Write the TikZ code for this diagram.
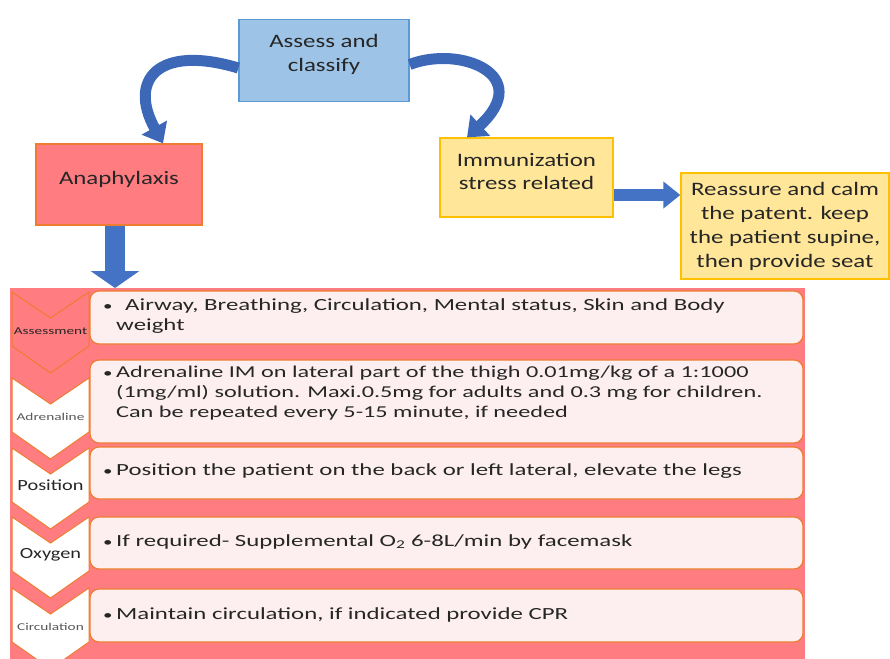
\documentclass[tikz,border=0pt]{standalone}
\usepackage{fontspec}
\setmainfont{Carlito}[FakeStretch=1.31]
\newfontfamily\rowfont{Carlito}[FakeStretch=1.46]
\usetikzlibrary{arrows.meta}
\definecolor{salmon}{HTML}{FF7C80}
\definecolor{orng}{HTML}{ED7D31}
\definecolor{rowfill}{HTML}{FDEFEF}
\definecolor{bluefill}{HTML}{9DC3E6}
\definecolor{blueedge}{HTML}{5B9BD5}
\definecolor{yelfill}{HTML}{FFE699}
\definecolor{yeledge}{HTML}{FFC000}
\definecolor{arrowblue}{HTML}{4472C4}
\definecolor{curveblue}{HTML}{3D68B8}
\definecolor{txtc}{HTML}{262626}
\definecolor{greytxt}{HTML}{595959}
\newcommand{\bul}{\makebox[13pt][l]{\fontsize{13}{13}\selectfont•}}
\begin{document}
\begin{tikzpicture}[x=1pt,y=-1pt,
  topbox/.style={draw, line width=1.3pt, inner sep=0pt},
  toptext/.style={align=center, inner sep=0pt, text=txtc, font=\fontsize{19}{24}\selectfont},
  rowbox/.style={draw=orng, fill=rowfill, line width=1.2pt, rounded corners=9pt, minimum width=713pt, inner sep=0pt},
  rowtext/.style={anchor=base west, align=left, inner sep=0pt, text=txtc, font=\rowfont\fontsize{17}{20}\selectfont},
  chevbig/.style={inner sep=0pt, text=txtc, font=\fontsize{15.5}{18}\selectfont},
  chevsmall/.style={inner sep=0pt, font=\rowfont\fontsize{10.5}{11}\selectfont},
  chevron/.style={draw=orng, line width=1pt},
  blockarrow/.style={draw=arrowblue},
  curvearrow/.style={draw=curveblue, line width=11pt, -{Triangle[length=18pt,width=28pt]}}
]
\useasboundingbox (0,0) rectangle (890,658);
\clip (0,0) rectangle (890,658);

% top boxes
\node[topbox, fill=bluefill, draw=blueedge, minimum width=170pt, minimum height=82pt] (assess) at (324,60.5) {};
\node[toptext] (assesst) at ([yshift=6pt]assess.center) {Assess and\\classify};

\node[topbox, fill=salmon, draw=orng, minimum width=166pt, minimum height=81pt] (ana) at (119,184.5) {};
\node[toptext] (anat) at ([yshift=5pt]ana.center) {Anaphylaxis};

\node[topbox, fill=yelfill, draw=yeledge, minimum width=173pt, minimum height=79pt] (immun) at (526.5,177.5) {};
\node[toptext] (immunt) at ([yshift=6pt]immun.center) {Immunization\\stress related};

\node[topbox, fill=yelfill, draw=yeledge, minimum width=208pt, minimum height=106pt] (reassure) at (785,226) {};
\node[toptext] (reassuret) at (reassure.center) {Reassure and calm\\the patent. keep\\the patient supine,\\then provide seat};

% curved arrows
\draw[curvearrow] ([yshift=-7.5pt]assess.west) .. controls (158,44) and (128,80) .. ([xshift=44pt]ana.north);
\draw[curvearrow] ([yshift=-4pt]assess.east) .. controls (460,45) and (535,75) .. ([xshift=-59.5pt]immun.north);

% right block arrow
\coordinate (ia) at ([yshift=-17.5pt]immun.east);
\draw[blockarrow, line width=12pt, -{Triangle[length=17pt,width=26pt]}] (ia) -- (ia -| reassure.west);

% bottom panel
\node[fill=salmon, minimum width=795pt, minimum height=372pt, inner sep=0pt, anchor=north west] (panel) at (10,288) {};

% down block arrow
\coordinate (anatip) at (115,288);
\draw[blockarrow, line width=20pt, -{Triangle[length=17pt,width=48pt]}] ([xshift=-4pt]ana.south) -- (anatip);

% chevrons
\foreach \t/\f in {292/salmon,378/white,448/white,517/white,588/white}
  \draw[chevron, fill=\f] (12,\t) -- (50.5,\t+26) -- (89,\t) -- (89,\t+54) -- (50.5,\t+81) -- (12,\t+54) -- cycle;

\node[chevsmall, text=txtc] (l1) at (50.5,331) {Assessment};
\node[chevsmall, text=greytxt] (l2) at (50.5,417) {Adrenaline};
\node[chevbig] (l3) at (50.5,485) {Position};
\node[chevbig] (l4) at (50.5,555) {Oxygen};
\node[chevsmall, text=greytxt] (l5) at (50.5,627) {Circulation};

% row boxes
\node[rowbox, minimum height=53pt] (r1) at (446.5,317.5) {};
\node[rowbox, minimum height=83pt] (r2) at (446.5,401.5) {};
\node[rowbox, minimum height=52pt] (r3) at (446.5,473) {};
\node[rowbox, minimum height=52pt] (r4) at (446.5,543) {};
\node[rowbox, minimum height=53pt] (r5) at (446.5,615.5) {};

\node[rowtext] (t1) at (103,330) {\bul\hspace{9pt}Airway, Breathing, Circulation, Mental status, Skin and Body\\\hspace*{13pt}weight};
\node[rowtext, font=\rowfont\fontsize{16.6}{20}\selectfont] (t2) at (103,417) {\bul Adrenaline IM on lateral part of the thigh 0.01mg/kg of a 1:1000\\\hspace*{13pt}(1mg/ml) solution. Maxi.0.5mg for adults and 0.3 mg for children.\\\hspace*{13pt}Can be repeated every 5-15 minute, if needed};
\node[rowtext] (t3) at (103,475) {\bul Position the patient on the back or left lateral, elevate the legs};
\node[rowtext] (t4) at (103,546) {\bul If required- Supplemental O\textsubscript{2} 6-8L/min by facemask};
\node[rowtext] (t5) at (103,619) {\bul Maintain circulation, if indicated provide CPR};
\end{tikzpicture}
\end{document}
